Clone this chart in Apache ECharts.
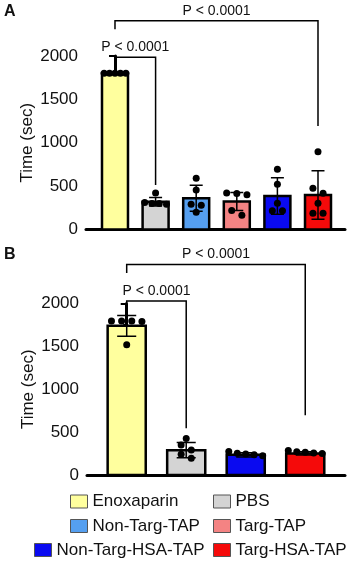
<!DOCTYPE html>
<html>
<head>
<meta charset="utf-8">
<script src="https://cdn.jsdelivr.net/npm/echarts@6/dist/echarts.min.js"></script>
<style>
  html, body { margin: 0; padding: 0; background: #fff; }
  #chart { width: 353px; height: 564px; }
</style>
</head>
<body>
<div id="chart"></div>
<script>
// panel A
const groupsA = ['Enoxaparin', 'PBS', 'Non-Targ-TAP', 'Targ-TAP', 'Non-Targ-HSA-TAP', 'Targ-HSA-TAP']
const meansA = [1800, 320, 360, 322, 386, 398]
const sdA = [0, 50, 150, 104, 211, 280]
const pointsA = [
  [1800, 1800, 1800, 1800, 1800],
  [420, 310, 300, 300, 290],
  [590, 455, 290, 280, 200],
  [420, 415, 400, 220, 165],
  [694, 521, 302, 217, 217],
  [897, 475, 417, 302, 186, 186],
]

// panel B
const groupsB = ['Enoxaparin', 'PBS', 'Non-Targ-HSA-TAP', 'Targ-HSA-TAP']
const meansB = [1740, 290, 235, 252]
const sdB = [121, 90, 25, 20]
const pointsB = [
  [1795, 1795, 1795, 1790, 1520],
  [427, 349, 291, 241, 194],
  [275, 255, 245, 235, 225],
  [285, 270, 265, 258, 250],
]

const yTicks = [0, 500, 1000, 1500, 2000]
const pLabel = 'P < 0.0001'
// [from group, to group, bracket level, left arm end, right arm end] (data units)
const bracketsA = [[0, 5, 2407, 2308, 1193], [0, 1, 1985, 1897, 513]]
const bracketsB = [[0, 3, 2456, 2355, 698], [0, 1, 2029, 1941, 544]]

const colors = {
  'Enoxaparin': '#ffff9e',
  'PBS': '#d4d4d4',
  'Non-Targ-TAP': '#559ff0',
  'Targ-TAP': '#f48383',
  'Non-Targ-HSA-TAP': '#0a0af0',
  'Targ-HSA-TAP': '#f50a0a',
}

const FONT = '"Liberation Sans", Arial, sans-serif'
const DOT = 7

// spread dots of similar height side by side (like a column scatter)
function layoutDots(pts, api, xi, barW) {
  const cx = api.coord([xi, 0])[0]
  const ys = pts.map(v => api.coord([xi, v])[1]).sort((a, b) => a - b)
  const rows = []
  ys.forEach(y => {
    const row = rows[rows.length - 1]
    if (row && y - row[0] < DOT * 0.8) row.push(y)
    else rows.push([y])
  })
  const out = []
  rows.forEach(row => {
    const n = row.length
    const step = n > 1 ? Math.min(DOT * 1.45, (barW - DOT * 0.6) / (n - 1)) : 0
    row.forEach((y, k) => out.push([cx + (k - (n - 1) / 2) * step, y]))
  })
  return out
}

function groupSeries(panel, gi, name, mean, sd, pts) {
  return {
    type: 'custom',
    name: name,
    xAxisIndex: panel,
    yAxisIndex: panel,
    clip: false,
    itemStyle: { color: colors[name] },
    data: [[gi, mean, sd]],
    renderItem(params, api) {
      const xi = api.value(0), m = api.value(1), s = api.value(2)
      const w = api.size([1, 0])[0] * 0.64
      const base = api.coord([xi, 0])
      const top = api.coord([xi, m])
      const hi = api.coord([xi, m + s])[1]
      const lo = api.coord([xi, m - s])[1]
      const cx = base[0]
      const cap = w * 0.25
      const children = [{
        type: 'rect',
        shape: { x: cx - w / 2, y: top[1], width: w, height: base[1] - top[1] },
        style: { fill: api.visual('color'), stroke: '#000', lineWidth: 2.5 },
      }]
      if (s > 0) {
        children.push({
          type: 'polyline',
          shape: { points: [[cx - cap, hi], [cx + cap, hi], [cx, hi], [cx, lo], [cx - cap, lo], [cx + cap, lo]] },
          style: { stroke: '#000', lineWidth: 1.5, fill: null },
        })
      }
      layoutDots(pts, api, xi, w).forEach(p => {
        children.push({
          type: 'circle',
          shape: { cx: p[0], cy: p[1], r: DOT / 2 },
          style: { fill: '#000' },
        })
      })
      return { type: 'group', children }
    },
  }
}

function bracketSeries(panel, brackets) {
  return {
    type: 'custom',
    xAxisIndex: panel,
    yAxisIndex: panel,
    clip: false,
    data: brackets,
    renderItem(params, api) {
      const L = api.coord([api.value(0), api.value(2)])
      const R = api.coord([api.value(1), api.value(2)])
      const lb = api.coord([api.value(0), api.value(3)])[1]
      const rb = api.coord([api.value(1), api.value(4)])[1]
      return {
        type: 'group',
        children: [
          {
            type: 'polyline',
            shape: { points: [[L[0], lb], [L[0], L[1]], [R[0], R[1]], [R[0], rb]] },
            style: { stroke: '#000', lineWidth: 1.5, fill: null },
          },
          {
            type: 'text',
            style: {
              x: (L[0] + R[0]) / 2, y: L[1] - 3, text: pLabel,
              align: 'center', verticalAlign: 'bottom',
              font: '14px ' + FONT, fill: '#111',
            },
          },
        ],
      }
    },
  }
}

function yAxis(panel) {
  return {
    gridIndex: panel,
    type: 'value',
    min: yTicks[0],
    max: yTicks[yTicks.length - 1],
    interval: yTicks[1] - yTicks[0],
    name: 'Time (sec)',
    nameLocation: 'middle',
    nameGap: 50,
    nameMoveOverlap: false,
    nameTextStyle: { fontSize: 17, fontFamily: FONT, color: '#111' },
    axisLine: { show: true, lineStyle: { color: '#000', width: 3 } },
    axisTick: { show: true, length: 6, lineStyle: { color: '#000', width: 2 } },
    minorTick: { show: true, splitNumber: 2, length: 3.5, lineStyle: { color: '#000', width: 2 } },
    axisLabel: { fontSize: 17, margin: 8, color: '#111', fontFamily: FONT, formatter: v => String(v) },
    splitLine: { show: false },
    minorSplitLine: { show: false },
  }
}

function xAxis(panel, min, max) {
  return {
    gridIndex: panel,
    type: 'value',
    min: min,
    max: max,
    axisLine: { show: true, onZero: false, lineStyle: { color: '#000', width: 3 } },
    axisTick: { show: false },
    axisLabel: { show: false },
    splitLine: { show: false },
  }
}

const legendLeft = [70, 213, 70, 213, 34, 213]
const legendTop = [493, 493, 517.5, 517.5, 541.5, 541.5]

const chart = echarts.init(document.getElementById('chart'), null, { renderer: 'canvas' })

const series = []
groupsA.forEach((g, i) => series.push(groupSeries(0, i, g, meansA[i], sdA[i], pointsA[i])))
groupsB.forEach((g, i) => series.push(groupSeries(1, i, g, meansB[i], sdB[i], pointsB[i])))
series.push(bracketSeries(0, bracketsA))
series.push(bracketSeries(1, bracketsB))

chart.setOption({
  animation: false,
  backgroundColor: '#fff',
  title: [
    { text: 'A', left: 4, top: 4, padding: 0, textStyle: { fontSize: 16, fontWeight: 'bold', fontFamily: FONT, color: '#111' } },
    { text: 'B', left: 4, top: 247, padding: 0, textStyle: { fontSize: 16, fontWeight: 'bold', fontFamily: FONT, color: '#111' } },
  ],
  grid: [
    { left: 86, right: 8, top: 56, bottom: 334.5, containLabel: false },
    { left: 87, right: 8, top: 303.5, bottom: 89, containLabel: false },
  ],
  xAxis: [xAxis(0, -0.714, 5.665), xAxis(1, -0.667, 3.668)],
  yAxis: [yAxis(0), yAxis(1)],
  legend: groupsA.map((g, i) => ({
    data: [g],
    left: legendLeft[i],
    top: legendTop[i],
    padding: 0,
    orient: 'horizontal',
    selectedMode: false,
    icon: 'rect',
    itemWidth: 17,
    itemHeight: 13,
    itemGap: 0,
    itemStyle: { borderColor: '#555', borderWidth: 1 },
    textStyle: { fontSize: 17, fontFamily: FONT, color: '#111' },
  })),
  series: series,
})
</script>
</body>
</html>
